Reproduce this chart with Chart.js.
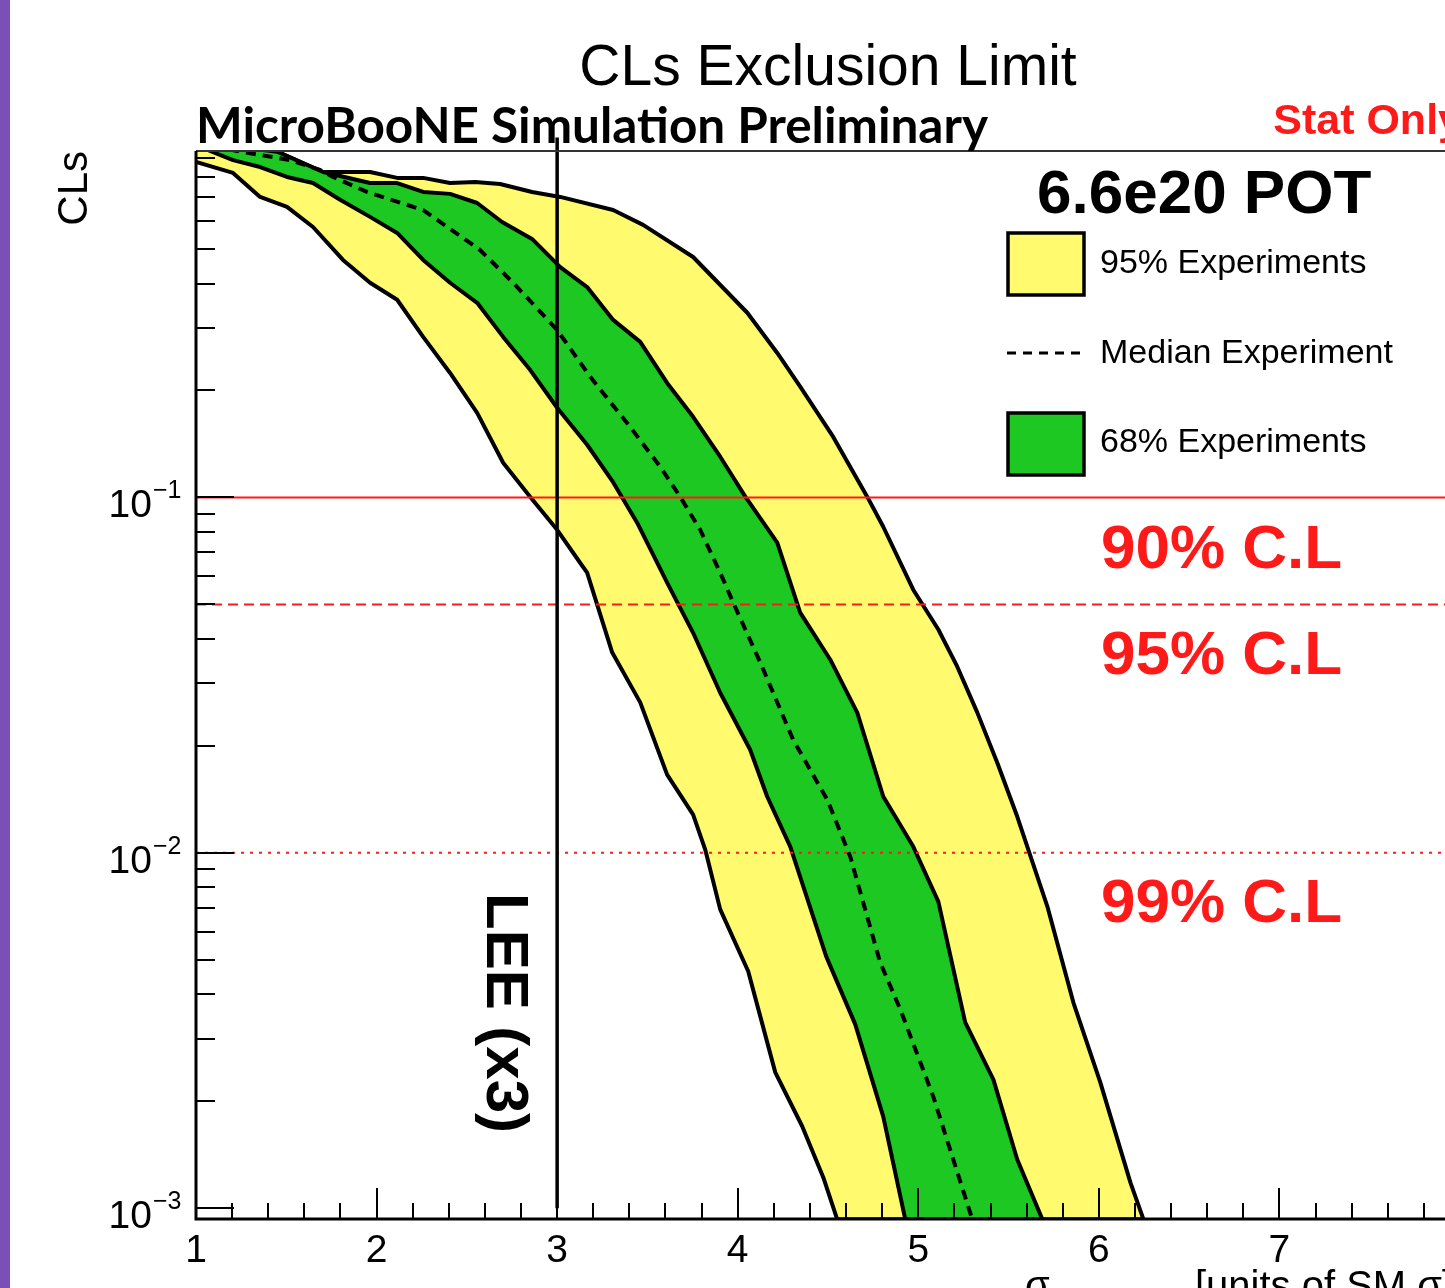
<!DOCTYPE html>
<html>
<head>
<meta charset="utf-8">
<title>CLs Exclusion Limit</title>
<script src="https://cdn.jsdelivr.net/npm/chart.js@4.4.1/dist/chart.umd.min.js"></script>
<style>
  html, body { margin: 0; padding: 0; background: #fff; overflow: hidden; }
  #wrap { position: absolute; left: 0; top: 0; width: 1600px; height: 1288px; }
  #bar { position: absolute; left: 0; top: 0; width: 10px; height: 1288px; background: #7b4fb4; }
</style>
</head>
<body>
<div id="wrap"><canvas id="cls" width="1600" height="1288"></canvas></div>
<div id="bar"></div>
<script>
// values
const xMin = 1, xMax = 8
const yMin = 0.000932, yMax = 0.944

const xTickValues = [1, 2, 3, 4, 5, 6, 7, 8]
const xTickLabels = ['1', '2', '3', '4', '5', '6', '7', '8']
const yTickValues = [0.001, 0.01, 0.1]
const yTickExponents = ['\u22123', '\u22122', '\u22121']

const clLevels = [0.1, 0.05, 0.01]
const clLabels = ['90% C.L', '95% C.L', '99% C.L']
const leeX = 3

// 95% band, upper and lower edge
const yellowUpX = [1.0, 1.45, 1.704, 1.964, 2.114, 2.258, 2.407, 2.546, 2.684, 2.861, 3.017, 3.310, 3.476, 3.753, 4.053, 4.219, 4.346, 4.529, 4.717, 4.806, 4.972, 5.111, 5.216, 5.327, 5.438, 5.548, 5.715, 5.859, 6.008, 6.175, 6.247]
const yellowUpY = [1.0, 0.94, 0.824, 0.824, 0.793, 0.793, 0.767, 0.772, 0.762, 0.724, 0.701, 0.644, 0.585, 0.475, 0.331, 0.255, 0.205, 0.148, 0.1005, 0.0827, 0.0550, 0.0425, 0.0334, 0.0248, 0.0179, 0.01265, 0.00706, 0.00379, 0.00226, 0.00118, 0.00093]
const yellowLowX = [1.0, 1.205, 1.355, 1.504, 1.648, 1.814, 1.964, 2.114, 2.258, 2.407, 2.557, 2.701, 2.850, 3.000, 3.127, 3.166, 3.305, 3.460, 3.609, 3.753, 3.820, 3.903, 4.058, 4.208, 4.357, 4.474, 4.551]
const yellowLowY = [0.879, 0.819, 0.701, 0.657, 0.577, 0.466, 0.402, 0.360, 0.283, 0.224, 0.173, 0.1252, 0.1005, 0.0811, 0.0655, 0.0614, 0.0366, 0.0265, 0.0166, 0.01281, 0.01021, 0.00693, 0.00464, 0.00241, 0.00170, 0.00122, 0.00093]

// 68% band, upper and lower edge
const greenUpX = [1.0, 1.45, 1.704, 1.964, 2.114, 2.258, 2.407, 2.557, 2.695, 2.861, 3.017, 3.166, 3.310, 3.460, 3.609, 3.753, 3.903, 4.042, 4.219, 4.346, 4.512, 4.662, 4.806, 4.972, 5.111, 5.260, 5.416, 5.548, 5.687]
const greenUpY = [1.0, 0.94, 0.824, 0.767, 0.767, 0.724, 0.715, 0.674, 0.596, 0.534, 0.445, 0.391, 0.316, 0.274, 0.210, 0.1686, 0.1302, 0.1005, 0.0746, 0.0474, 0.0350, 0.0248, 0.0144, 0.01041, 0.00729, 0.00333, 0.00230, 0.00137, 0.00093]
const greenLowX = [1.0, 1.078, 1.205, 1.355, 1.504, 1.648, 1.798, 1.964, 2.114, 2.258, 2.407, 2.557, 2.701, 2.850, 3.000, 3.166, 3.305, 3.443, 3.609, 3.753, 3.903, 4.069, 4.163, 4.291, 4.490, 4.651, 4.806, 4.928]
const greenLowY = [1.0, 0.944, 0.890, 0.851, 0.798, 0.767, 0.688, 0.616, 0.555, 0.466, 0.402, 0.353, 0.283, 0.2286, 0.1788, 0.1407, 0.1114, 0.0849, 0.0576, 0.0416, 0.0282, 0.0195, 0.0144, 0.01041, 0.00511, 0.00329, 0.00181, 0.00093]

// median experiment
const medianX = [1.0, 1.227, 1.521, 1.687, 1.759, 1.947, 2.258, 2.573, 2.756, 3.000, 3.183, 3.404, 3.571, 3.681, 3.792, 3.903, 3.975, 4.125, 4.307, 4.496, 4.623, 4.789, 4.900, 5.083, 5.299]
const medianY = [1.0, 0.944, 0.890, 0.835, 0.798, 0.724, 0.644, 0.497, 0.402, 0.296, 0.2185, 0.158, 0.122, 0.1005, 0.0811, 0.0614, 0.0506, 0.0343, 0.0208, 0.0141, 0.00976, 0.00491, 0.00363, 0.00206, 0.00093]

const YELLOW = '#fffa6e'
const GREEN = '#1ec823'
const RED = '#ff1a1a'
const FONT = '"Liberation Sans", Arial, Helvetica, sans-serif'

function pts(xs, ys) {
  return xs.map((v, i) => ({ x: v, y: ys[i] }))
}

// closed shapes: upper edge left to right, then lower edge back
const yellowBand = pts(yellowUpX, yellowUpY).concat(pts(yellowLowX, yellowLowY).reverse())
const greenBand = pts(greenUpX, greenUpY).concat(pts(greenLowX, greenLowY).reverse())

// ROOT style frame, inward ticks
const rootAxes = {
  id: 'rootAxes',
  afterDatasetsDraw(chart) {
    const { ctx, chartArea: a, scales: { x, y } } = chart
    ctx.save()
    ctx.strokeStyle = '#000'
    ctx.lineWidth = 2
    ctx.beginPath()
    for (let k = 0; k <= (xMax - xMin) * 5; k++) {
      const px = Math.round(x.getPixelForValue(xMin + k * 0.2))
      const len = k % 5 === 0 ? 31 : 16
      ctx.moveTo(px, a.bottom)
      ctx.lineTo(px, a.bottom - len)
    }
    for (let e = -4; e <= 0; e++) {
      for (let m = 1; m <= 9; m++) {
        const v = m * Math.pow(10, e)
        if (v < yMin || v > yMax) continue
        const py = Math.round(y.getPixelForValue(v))
        ctx.moveTo(a.left, py)
        ctx.lineTo(a.left + (m === 1 ? 38 : 19), py)
      }
    }
    ctx.stroke()

    ctx.strokeStyle = '#333'
    ctx.lineWidth = 2
    ctx.beginPath()
    ctx.moveTo(a.left, a.top)
    ctx.lineTo(a.right, a.top)
    ctx.lineTo(a.right, a.bottom)
    ctx.stroke()

    ctx.strokeStyle = '#000'
    ctx.lineWidth = 3
    ctx.beginPath()
    ctx.moveTo(a.left, a.top)
    ctx.lineTo(a.left, a.bottom)
    ctx.lineTo(a.right, a.bottom)
    ctx.stroke()
    ctx.restore()
  }
}

const rootText = {
  id: 'rootText',
  afterDraw(chart) {
    const { ctx, chartArea: a, scales: { x, y } } = chart
    ctx.save()
    ctx.fillStyle = '#000'
    ctx.textBaseline = 'alphabetic'

    // tick labels
    ctx.font = '39px ' + FONT
    ctx.textAlign = 'center'
    xTickValues.forEach((v, i) => {
      ctx.fillText(xTickLabels[i], x.getPixelForValue(v), 1262)
    })
    yTickValues.forEach((v, i) => {
      const py = y.getPixelForValue(v)
      ctx.font = '39px ' + FONT
      ctx.textAlign = 'right'
      ctx.fillText('10', 152, py + 20)
      ctx.font = '25px ' + FONT
      ctx.textAlign = 'left'
      ctx.fillText(yTickExponents[i], 153, py + 1)
    })

    // title
    ctx.font = '57px ' + FONT
    ctx.textAlign = 'center'
    ctx.fillText('CLs Exclusion Limit', (a.left + a.right) / 2, 85)

    // experiment tag
    const tag = 'MicroBooNE Simulation Preliminary'
    ctx.font = 'bold 49px Lato, "Open Sans", sans-serif'
    ctx.textAlign = 'left'
    const sx = 792 / ctx.measureText(tag).width
    ctx.save()
    ctx.translate(a.left, 143)
    ctx.scale(sx, 1)
    ctx.fillText(tag, 0, 0)
    ctx.restore()

    ctx.fillStyle = RED
    ctx.font = 'bold 43px ' + FONT
    ctx.textAlign = 'right'
    ctx.fillText('Stat Only', a.right + 2, 134)

    // axis titles
    ctx.fillStyle = '#000'
    ctx.save()
    ctx.translate(87, a.top)
    ctx.rotate(-Math.PI / 2)
    ctx.font = '42px ' + FONT
    ctx.textAlign = 'right'
    ctx.fillText('CLs', 0, 0)
    ctx.restore()

    ctx.font = '40px ' + FONT
    ctx.textAlign = 'left'
    ctx.fillText('\u03c3', 1025, 1299)
    ctx.font = '28px ' + FONT
    ctx.fillText('LEE', 1050, 1312)
    ctx.font = '40px ' + FONT
    ctx.fillText('[units of SM \u03c3]', 1195, 1299)

    // LEE marker text
    ctx.save()
    ctx.translate(487, 893)
    ctx.rotate(Math.PI / 2)
    ctx.font = 'bold 60px ' + FONT
    ctx.textAlign = 'left'
    ctx.fillText('LEE (x3)', 0, 0)
    ctx.restore()

    // legend
    ctx.font = 'bold 62px ' + FONT
    ctx.textAlign = 'left'
    ctx.fillText('6.6e20 POT', 1037, 213)

    ctx.lineWidth = 3.5
    ctx.strokeStyle = '#000'
    ctx.fillStyle = YELLOW
    ctx.fillRect(1008, 233, 76, 62)
    ctx.strokeRect(1008, 233, 76, 62)
    ctx.fillStyle = GREEN
    ctx.fillRect(1008, 413, 76, 62)
    ctx.strokeRect(1008, 413, 76, 62)
    ctx.lineWidth = 3
    ctx.setLineDash([9, 7])
    ctx.beginPath()
    ctx.moveTo(1007, 353)
    ctx.lineTo(1085, 353)
    ctx.stroke()
    ctx.setLineDash([])

    ctx.fillStyle = '#000'
    ctx.font = '34px ' + FONT
    ctx.fillText('95% Experiments', 1100, 273)
    ctx.fillText('Median Experiment', 1100, 363)
    ctx.fillText('68% Experiments', 1100, 452)

    // confidence level labels
    ctx.fillStyle = RED
    ctx.font = 'bold 62px ' + FONT
    const clBase = [568, 674, 922]
    clLabels.forEach((t, i) => ctx.fillText(t, 1101, clBase[i]))
    ctx.restore()
  }
}

const clDatasets = clLevels.map((lv, i) => ({
  label: clLabels[i],
  data: [{ x: xMin, y: lv }, { x: xMax, y: lv }],
  borderColor: RED,
  borderWidth: 2,
  borderDash: [[], [10, 6], [3, 6]][i]
}))

new Chart(document.getElementById('cls'), {
  type: 'line',
  data: {
    datasets: [
      {
        label: 'LEE (x3)',
        data: [{ x: leeX, y: 0.001 }, { x: leeX, y: 1.03 }],
        borderColor: '#000',
        borderWidth: 3.5,
        clip: false
      },
      ...clDatasets,
      {
        label: 'Median Experiment',
        data: pts(medianX, medianY),
        borderColor: '#000',
        borderWidth: 4,
        borderDash: [10, 7]
      },
      {
        label: '68% Experiments',
        data: greenBand,
        borderColor: '#000',
        borderWidth: 4,
        backgroundColor: GREEN,
        fill: 'shape'
      },
      {
        label: '95% Experiments',
        data: yellowBand,
        borderColor: '#000',
        borderWidth: 4,
        backgroundColor: YELLOW,
        fill: 'shape'
      }
    ]
  },
  options: {
    responsive: false,
    animation: false,
    devicePixelRatio: 1,
    layout: { padding: { left: 196, top: 151, right: 140, bottom: 69 } },
    elements: {
      point: { radius: 0, hoverRadius: 0 },
      line: { tension: 0, fill: false, borderJoinStyle: 'round' }
    },
    plugins: {
      legend: { display: false },
      tooltip: { enabled: false }
    },
    events: [],
    scales: {
      x: {
        type: 'linear',
        min: xMin,
        max: xMax,
        grid: { display: false, drawTicks: false },
        border: { display: false },
        ticks: { display: false }
      },
      y: {
        type: 'logarithmic',
        min: yMin,
        max: yMax,
        grid: { display: false, drawTicks: false },
        border: { display: false },
        ticks: { display: false }
      }
    }
  },
  plugins: [rootAxes, rootText]
})
</script>
</body>
</html>
